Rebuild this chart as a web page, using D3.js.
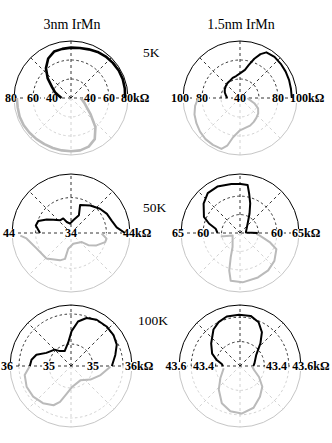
<!DOCTYPE html>
<html>
<head>
<meta charset="utf-8">
<script src="https://cdn.jsdelivr.net/npm/d3@7"></script>
<style>
  body { margin: 0; background: #fff; }
  svg { display: block; font-family: "Liberation Serif", "Times New Roman", serif; }
</style>
</head>
<body>
<div id="chart"></div>
<script>
// column titles and row temperatures
let titles = ['3nm IrMn', '1.5nm IrMn'];
let temps = ['5K', '50K', '100K'];

// radial ranges [centre value, outer value] in kOhm
let a5Domain = [20, 80];
let b5Domain = [40, 100];
let c50Domain = [34, 44];
let d50Domain = [50, 66];
let e100Domain = [34.27, 36.3];
let f100Domain = [43.1, 43.6];

// dashed circles
let a5Grid = [40, 60];
let b5Grid = [60, 80];
let c50Grid = [40];
let d50Grid = [55, 60];
let e100Grid = [35, 36];
let f100Grid = [43.3, 43.5];

// tick labels on the horizontal axis (left side, centre, right side)
let a5Left = ['80', '60', '40'], a5Mid = null, a5Right = ['40', '60', '80'];
let b5Left = ['100', '80'], b5Mid = '40', b5Right = ['80', '100'];
let c50Left = ['44'], c50Mid = '34', c50Right = ['44'];
let d50Left = ['65', '60'], d50Mid = null, d50Right = ['60', '65'];
let e100Left = ['36', '35'], e100Mid = null, e100Right = ['35', '36'];
let f100Left = ['43.6', '43.4'], f100Mid = null, f100Right = ['43.4', '43.6'];

// resistance vs field angle [deg, kOhm]; black = 0..180, grey = 180..360
let a5Black = [[0,77],[10,77.5],[20,78],[30,78],[40,77.5],[50,77],[60,76],[70,74.5],[80,73.5],[90,73],[100,72.5],[110,72],[120,68],[130,61],[140,52],[150,43],[160,38],[170,33],[180,30]];
let a5Grey = [[180,77],[190,77],[200,77.5],[210,77.5],[220,77],[230,76.5],[240,76],[250,76],[260,76],[270,76],[280,76],[290,74.5],[300,70],[310,60],[320,47],[330,39],[340,35],[350,32],[360,30]];

let b5Black = [[0,94.5],[10,94.5],[20,95],[30,95.5],[40,96],[50,96.5],[60,95.5],[65,91],[70,84],[75,76],[80,70],[90,66],[100,63.5],[110,62.5],[120,61],[130,60.5],[140,59.5],[150,58.5],[160,57],[170,55],[180,53.5]];
let b5Grey = [[180,84],[190,88],[200,91],[210,93],[220,95],[230,96.5],[240,97],[250,97],[255,92],[260,82],[270,74],[280,72],[290,71],[300,69],[310,67],[320,65],[330,62],[340,56],[350,50],[360,48]];

let c50Black = [[0,43.15],[7,41.8],[17,41.2],[28,40.9],[40,40.4],[55,39.7],[72,39.0],[66,37.3],[80,36.2],[96,35.6],[111,36],[118,36.8],[131,36.85],[143,37.75],[151,38.7],[160,39.9],[168,40.1],[180,39.25]];
let c50Grey = [[183,42.6],[187,41.6],[204,40.4],[226,40],[248,39],[257,38.5],[260,36.7],[282,35.85],[320,36.4],[325,37.6],[334,38.8],[345,40],[351,40.1],[359,39.2]];

let d50Black = [[0,54.8],[6,51.6],[51,53.3],[64,55.9],[71,58.5],[77,61],[81,63.2],[89,63.3],[100,63.5],[116,64],[129,63.9],[141,62.7],[156,60.7],[163,58.8],[170,56.7],[180,56.1]];
let d50Grey = [[190,55.3],[198,52.1],[242,54.3],[249,57],[254,60.6],[259,63.2],[273,63.4],[292,63],[307,62.7],[321,62],[336,60.8],[343,58.4],[347,56.8],[353,55.3],[357,54.4]];

let e100Black = [[0,35.63],[14,35.79],[25,35.95],[36,36.02],[48,36.04],[61,36.03],[72,35.95],[81,35.77],[89,35.43],[97,35.05],[113,34.81],[127,34.89],[135,35.04],[152,35.2],[162,35.48],[171,35.6],[180,35.64]];
let e100Grey = [[180,35.64],[191,35.84],[205,35.9],[219,35.89],[233,35.82],[246,35.7],[253,35.52],[261,35.21],[272,34.98],[303,34.84],[325,35.06],[343,35.3],[359,35.58]];

let f100Black = [[0,43.21],[10,43.22],[34,43.26],[48,43.35],[57,43.43],[67,43.49],[78,43.52],[91,43.52],[105,43.52],[116,43.5],[126,43.47],[142,43.4],[156,43.35],[165,43.3],[174,43.25],[180,43.24]];
let f100Grey = [[188,43.235],[212,43.29],[228,43.36],[244,43.44],[258,43.48],[272,43.49],[288,43.46],[303,43.4],[317,43.35],[330,43.28],[344,43.22],[358,43.2]];

// layout
let svg_width = 332;
let svg_height = 443;
let colX = [71, 240];
let rowY = [98, 233, 366];
let rowR = [57, 59, 61];

let black = '#000';
let grey = '#bababa';
let gridGrey = '#c6c6c6';

let svg = d3.select('#chart').append('svg')
  .attr('width', svg_width)
  .attr('height', svg_height);

svg.append('rect').attr('width', svg_width).attr('height', svg_height).attr('fill', '#fff');

// panels table
let panels = [
  {col: 0, row: 0, domain: a5Domain, grid: a5Grid, left: a5Left, mid: a5Mid, right: a5Right, black: a5Black, grey: a5Grey, lw: 2.6},
  {col: 1, row: 0, domain: b5Domain, grid: b5Grid, left: b5Left, mid: b5Mid, right: b5Right, black: b5Black, grey: b5Grey, lw: 2},
  {col: 0, row: 1, domain: c50Domain, grid: c50Grid, left: c50Left, mid: c50Mid, right: c50Right, black: c50Black, grey: c50Grey, lw: 2},
  {col: 1, row: 1, domain: d50Domain, grid: d50Grid, left: d50Left, mid: d50Mid, right: d50Right, black: d50Black, grey: d50Grey, lw: 2},
  {col: 0, row: 2, domain: e100Domain, grid: e100Grid, left: e100Left, mid: e100Mid, right: e100Right, black: e100Black, grey: e100Grey, lw: 2},
  {col: 1, row: 2, domain: f100Domain, grid: f100Grid, left: f100Left, mid: f100Mid, right: f100Right, black: f100Black, grey: f100Grey, lw: 2}
];

//half circle path, upper or lower
function halfArc(rad, upper) {
  let p = d3.path();
  if (upper) {
    p.moveTo(-rad, 0);
    p.arc(0, 0, rad, Math.PI, 2 * Math.PI);
  } else {
    p.moveTo(rad, 0);
    p.arc(0, 0, rad, 0, Math.PI);
  }
  return p.toString();
}

//label with white box behind
function addLabel(g, x, text, anchor, maxRight) {
  let lg = g.append('g');
  let t = lg.append('text')
    .attr('x', x)
    .attr('y', 4)
    .attr('text-anchor', anchor)
    .attr('font-size', '12px')
    .attr('font-weight', 'bold')
    .text(text);
  let bb = t.node().getBBox();
  // keep the text inside the page
  if (maxRight !== undefined && bb.x + bb.width > maxRight) {
    t.attr('x', x - (bb.x + bb.width - maxRight));
    bb = t.node().getBBox();
  }
  lg.insert('rect', 'text')
    .attr('x', bb.x - 1)
    .attr('y', -4)
    .attr('width', bb.width + 2)
    .attr('height', 9)
    .attr('fill', '#fff');
}

function drawPanel(p) {
  let cx = colX[p.col], cy = rowY[p.row], R = rowR[p.row];
  let g = svg.append('g').attr('transform', `translate(${cx}, ${cy})`);
  let rScale = d3.scaleLinear().domain(p.domain).range([0, R]);

  // dashed circles
  p.grid.forEach(function(v) {
    g.append('path').attr('d', halfArc(rScale(v), true))
      .attr('fill', 'none').attr('stroke', black).attr('stroke-width', 0.8).attr('stroke-dasharray', '2.5,2.5');
    g.append('path').attr('d', halfArc(rScale(v), false))
      .attr('fill', 'none').attr('stroke', gridGrey).attr('stroke-width', 0.8).attr('stroke-dasharray', '2.5,2.5');
  });

  // spokes every 45 deg
  d3.range(45, 360, 45).forEach(function(a) {
    if (a === 180) return;
    let rad = a * Math.PI / 180;
    g.append('line')
      .attr('x1', 0).attr('y1', 0)
      .attr('x2', R * Math.cos(rad)).attr('y2', -R * Math.sin(rad))
      .attr('stroke', a < 180 ? black : gridGrey)
      .attr('stroke-width', 0.8)
      .attr('stroke-dasharray', '3,3');
  });
  g.append('line')
    .attr('x1', -R).attr('y1', 0).attr('x2', R).attr('y2', 0)
    .attr('stroke', black).attr('stroke-width', 0.8).attr('stroke-dasharray', '3,3');

  // outer circle
  g.append('path').attr('d', halfArc(R, true))
    .attr('fill', 'none').attr('stroke', black).attr('stroke-width', 1);
  g.append('path').attr('d', halfArc(R, false))
    .attr('fill', 'none').attr('stroke', gridGrey).attr('stroke-width', 1);

  // tick labels
  p.left.forEach(function(t, i) {
    if (i === 0) addLabel(g, -R - 3, t, 'middle');
    else addLabel(g, -rScale(+t), t, 'middle');
  });
  if (p.mid) addLabel(g, 0, p.mid, 'middle');
  p.right.forEach(function(t, i) {
    if (i === p.right.length - 1) addLabel(g, R - 7, t + 'k\u03A9', 'start', svg_width - 2 - cx);
    else addLabel(g, rScale(+t), t, 'middle');
  });

  // data curves
  let line = d3.lineRadial()
    .angle(d => (90 - d[0]) * Math.PI / 180)
    .radius(d => rScale(d[1]));

  g.append('path').datum(p.grey)
    .attr('d', line)
    .attr('fill', 'none')
    .attr('stroke', grey)
    .attr('stroke-width', p.lw)
    .attr('stroke-linejoin', 'round');

  g.append('path').datum(p.black)
    .attr('d', line)
    .attr('fill', 'none')
    .attr('stroke', black)
    .attr('stroke-width', p.lw)
    .attr('stroke-linejoin', 'round');
}

panels.forEach(drawPanel);

// column titles
svg.selectAll('.title')
  .data(titles)
  .enter()
  .append('text')
  .classed('title', true)
  .attr('x', (d, i) => colX[i] + 1)
  .attr('y', 29)
  .attr('text-anchor', 'middle')
  .attr('font-size', '14px')
  .text(d => d);

// temperatures
let tempX = [143, 143, 138];
let tempY = [57, 212, 325];
svg.selectAll('.temp')
  .data(temps)
  .enter()
  .append('text')
  .classed('temp', true)
  .attr('x', (d, i) => tempX[i])
  .attr('y', (d, i) => tempY[i])
  .attr('font-size', '13.5px')
  .text(d => d);
</script>
</body>
</html>
